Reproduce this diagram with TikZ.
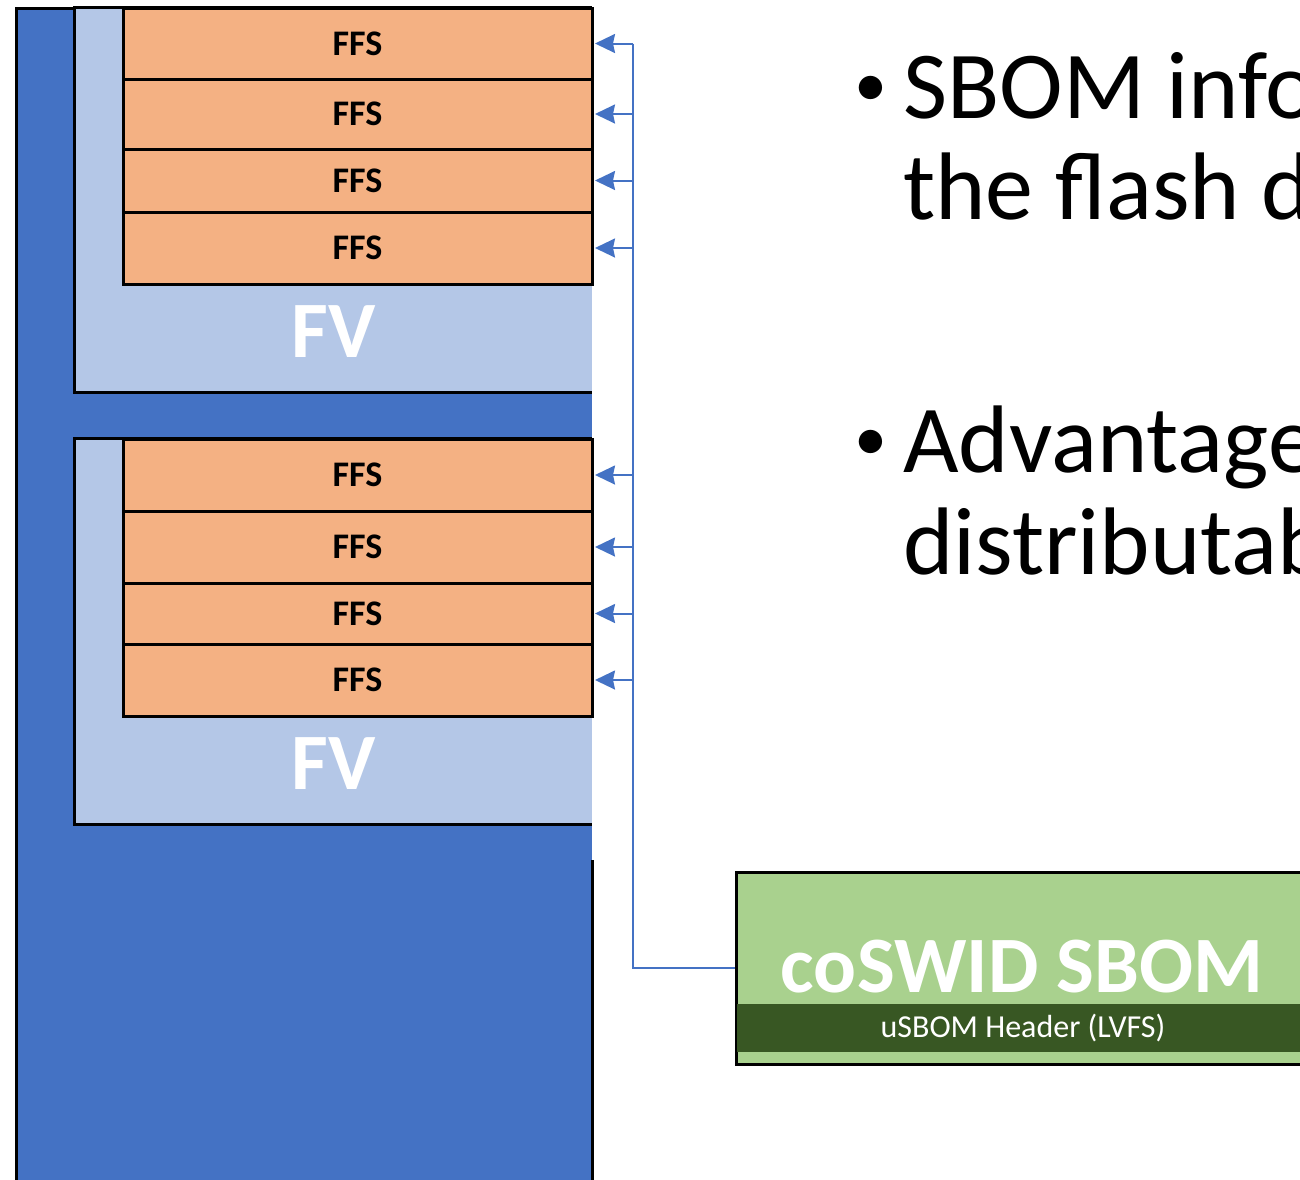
\documentclass[tikz,border=0pt]{standalone}
\usepackage{fontspec}
\setmainfont{Carlito}
\usetikzlibrary{arrows.meta}
\definecolor{flashblue}{HTML}{4472C4}
\definecolor{fvblue}{HTML}{B4C7E7}
\definecolor{ffsorange}{HTML}{F4B183}
\definecolor{sbomgreen}{HTML}{A9D18E}
\definecolor{hdrgreen}{HTML}{385723}
\begin{document}
\begin{tikzpicture}[x=1pt,y=-1pt,
  ffsbox/.style={fill=ffsorange,draw=black,line width=3pt,minimum width=469pt,inner sep=0pt,
     font=\fontsize{36}{42}\selectfont\bfseries,text=black},
  fvbox/.style={fill=fvblue,draw=none,minimum width=517pt,inner sep=0pt},
  edgeline/.style={draw=black,line width=3pt},
  fvlabel/.style={text=white,font=\fontsize{80}{90}\selectfont\bfseries,inner sep=0pt},
  conn/.style={draw=flashblue,line width=2pt},
  connarrow/.style={conn,-{Stealth[length=20pt,width=19pt,inset=2pt]}},
  bigtext/.style={font=\fontsize{96}{115}\selectfont,text=black,inner sep=0pt},
  bullettext/.style={font=\fontsize{66}{80}\selectfont,text=black,inner sep=0pt},
]
\useasboundingbox (0,0) rectangle (1300,1179);
\fill[white] (0,0) rectangle (1300,1179);
\begin{scope}
\clip (0,0) rectangle (1300,1179);
% flash device
\node[fill=flashblue,draw=none,anchor=north west,minimum width=576pt,minimum height=1200pt,inner sep=0pt] (flash) at (16,8) {};
\draw[edgeline] (flash.north east) -- (flash.north west) -- (flash.south west);
\draw[edgeline] (592,860) -- (592,1190);
\draw[flashblue,line width=1.5pt] (591,284) -- (591,860);
% FV 1
\node[fvbox,minimum height=384pt] (fv1) at (333.5,200) {};
\draw[edgeline] (fv1.north east) -- (fv1.north west) -- (fv1.south west) -- (fv1.south east);
\node[ffsbox,minimum height=71pt] (f1) at (357.5,43.5) {FFS};
\node[ffsbox,minimum height=70pt] (f2) at (357.5,114) {FFS};
\node[ffsbox,minimum height=63pt] (f3) at (357.5,180.5) {FFS};
\node[ffsbox,minimum height=72pt] (f4) at (357.5,248) {FFS};
\node[fvlabel] (fvl1) at (334,332) {FV};
% FV 2
\node[fvbox,minimum height=385pt] (fv2) at (333.5,631.5) {};
\draw[edgeline] (fv2.north east) -- (fv2.north west) -- (fv2.south west) -- (fv2.south east);
\node[ffsbox,minimum height=72pt] (f5) at (357.5,475) {FFS};
\node[ffsbox,minimum height=72pt] (f6) at (357.5,547) {FFS};
\node[ffsbox,minimum height=61pt] (f7) at (357.5,613.5) {FFS};
\node[ffsbox,minimum height=72pt] (f8) at (357.5,680) {FFS};
\node[fvlabel] (fvl2) at (334,764) {FV};
% coSWID SBOM
\node[fill=sbomgreen,draw=black,line width=3pt,anchor=west,minimum width=700pt,minimum height=192pt,inner sep=0pt] (sbom) at (735,968) {};
\node[fill=hdrgreen,draw=none,anchor=north west,minimum width=700pt,minimum height=48pt,inner sep=0pt] (hdr) at (737,1004) {};
\node[anchor=base,text=white,font=\fontsize{80}{90}\selectfont\bfseries,inner sep=0pt] (sbomlbl) at (1022,992) {coSWID SBOM};
\node[anchor=base,text=white,font=\fontsize{32}{38}\selectfont,inner sep=0pt] (hdrlbl) at (1023,1037) {uSBOM Header (LVFS)};
% connectors
\coordinate (spine) at (633,0);
\draw[conn] (f1.east -| spine) -- (spine |- sbom.west) -- (sbom.west);
\foreach \i in {1,...,8} {
  \draw[connarrow] (f\i.east -| spine) -- ([xshift=1.5pt]f\i.east);
}
% bullet text
\node[bullettext,anchor=base] (b1) at (871,106) {•};
\node[bigtext,anchor=base west] (t1a) at (903,118) {SBOM info};
\node[bigtext,anchor=base west] (t1b) at (903,219) {the flash d};
\node[bullettext,anchor=base] (b2) at (871,460) {•};
\node[bigtext,anchor=base west] (t2a) at (903,472) {Advantage};
\node[bigtext,anchor=base west] (t2b) at (903,574) {distributab};
\end{scope}
\end{tikzpicture}
\end{document}
